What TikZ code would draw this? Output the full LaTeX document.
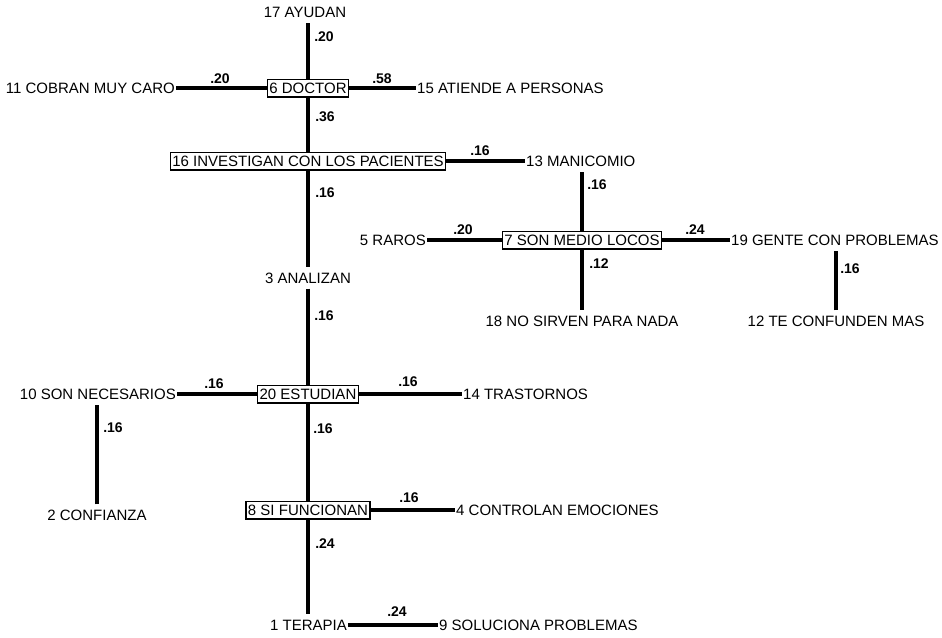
\documentclass[tikz,border=0pt]{standalone}
\usepackage{fontspec}
\setmainfont{Liberation Sans}
\begin{document}
\begin{tikzpicture}[x=1pt,y=-1pt,
  every node/.style={font=\fontsize{15}{15}\selectfont, text height=10.7pt, text depth=0pt},
  box/.style={draw, line width=1.3pt, inner xsep=2.1pt, inner ysep=3.5pt},
  term/.style={inner xsep=1pt, inner ysep=5pt},
  wt/.style={font=\fontsize{14}{14}\selectfont\bfseries, inner sep=0pt, text height=10pt},
  link/.style={line width=3.8pt}]
\useasboundingbox[fill=white] (0,0) rectangle (942,637);
% nodes
\node[box] (n6) at (308,88) {6 DOCTOR};
\node[term] (n17) at (305,12) {17 AYUDAN};
\node[term, anchor=east] (n11) at (176,88) {11 COBRAN MUY CARO};
\node[term, anchor=west] (n15) at (416,88) {15 ATIENDE A PERSONAS};
\node[box] (n16) at (308,161) {16 INVESTIGAN CON LOS PACIENTES};
\node[term, anchor=west] (n13) at (525,161) {13 MANICOMIO};
\node[box] (n7) at (582,240) {7 SON MEDIO LOCOS};
\node[term, anchor=east] (n5) at (427,240) {5 RAROS};
\node[term, anchor=west] (n19) at (730,240) {19 GENTE CON PROBLEMAS};
\node[term] (n18) at (582,321) {18 NO SIRVEN PARA NADA};
\node[term] (n12) at (836,321) {12 TE CONFUNDEN MAS};
\node[term] (n3) at (308,278) {3 ANALIZAN};
\node[box] (n20) at (308,394) {20 ESTUDIAN};
\node[term, anchor=east] (n10) at (177,394) {10 SON NECESARIOS};
\node[term, anchor=west] (n14) at (462,394) {14 TRASTORNOS};
\node[term] (n2) at (97,515) {2 CONFIANZA};
\node[box] (n8) at (308,510) {8 SI FUNCIONAN};
\node[term, anchor=west] (n4) at (455,510) {4 CONTROLAN EMOCIONES};
\node[term, anchor=east] (n1) at (348,625) {1 TERAPIA};
\node[term, anchor=west] (n9) at (438,625) {9 SOLUCIONA PROBLEMAS};
% connectors
\draw[link] (n6.north) -- (n6.north |- n17.south);
\draw[link] (n11.east) -- (n6.west);
\draw[link] (n6.east) -- (n15.west);
\draw[link] (n6.south) -- (n16.north);
\draw[link] (n16.east) -- (n13.west);
\draw[link] (n16.south) -- (n3.north);
\draw[link] (n7.north) -- (n7.north |- n13.south);
\draw[link] (n5.east) -- (n7.west);
\draw[link] (n7.east) -- (n19.west);
\draw[link] (n7.south) -- (n18.north);
\draw[link] (n12.north) -- (n12.north |- n19.south);
\draw[link] (n3.south) -- (n20.north);
\draw[link] (n10.east) -- (n20.west);
\draw[link] (n20.east) -- (n14.west);
\draw[link] (n2.north) -- (n2.north |- n10.south);
\draw[link] (n20.south) -- (n8.north);
\draw[link] (n8.east) -- (n4.west);
\draw[link] (n8.south) -- (n8.south |- n1.north);
\draw[link] (n1.east) -- (n9.west);
% weights
\node[wt] (w1) at (324,36) {.20};
\node[wt] (w2) at (220,78) {.20};
\node[wt] (w3) at (382,78) {.58};
\node[wt] (w4) at (325,116) {.36};
\node[wt] (w5) at (325,192) {.16};
\node[wt] (w6) at (480,150) {.16};
\node[wt] (w7) at (597,184) {.16};
\node[wt] (w8) at (463,229) {.20};
\node[wt] (w9) at (695,229) {.24};
\node[wt] (w10) at (599,263) {.12};
\node[wt] (w11) at (850,268) {.16};
\node[wt] (w12) at (324,315) {.16};
\node[wt] (w13) at (214,383) {.16};
\node[wt] (w14) at (408,381) {.16};
\node[wt] (w15) at (113,427) {.16};
\node[wt] (w16) at (323,428) {.16};
\node[wt] (w17) at (409,497) {.16};
\node[wt] (w18) at (325,543) {.24};
\node[wt] (w19) at (397,611) {.24};
\end{tikzpicture}
\end{document}
